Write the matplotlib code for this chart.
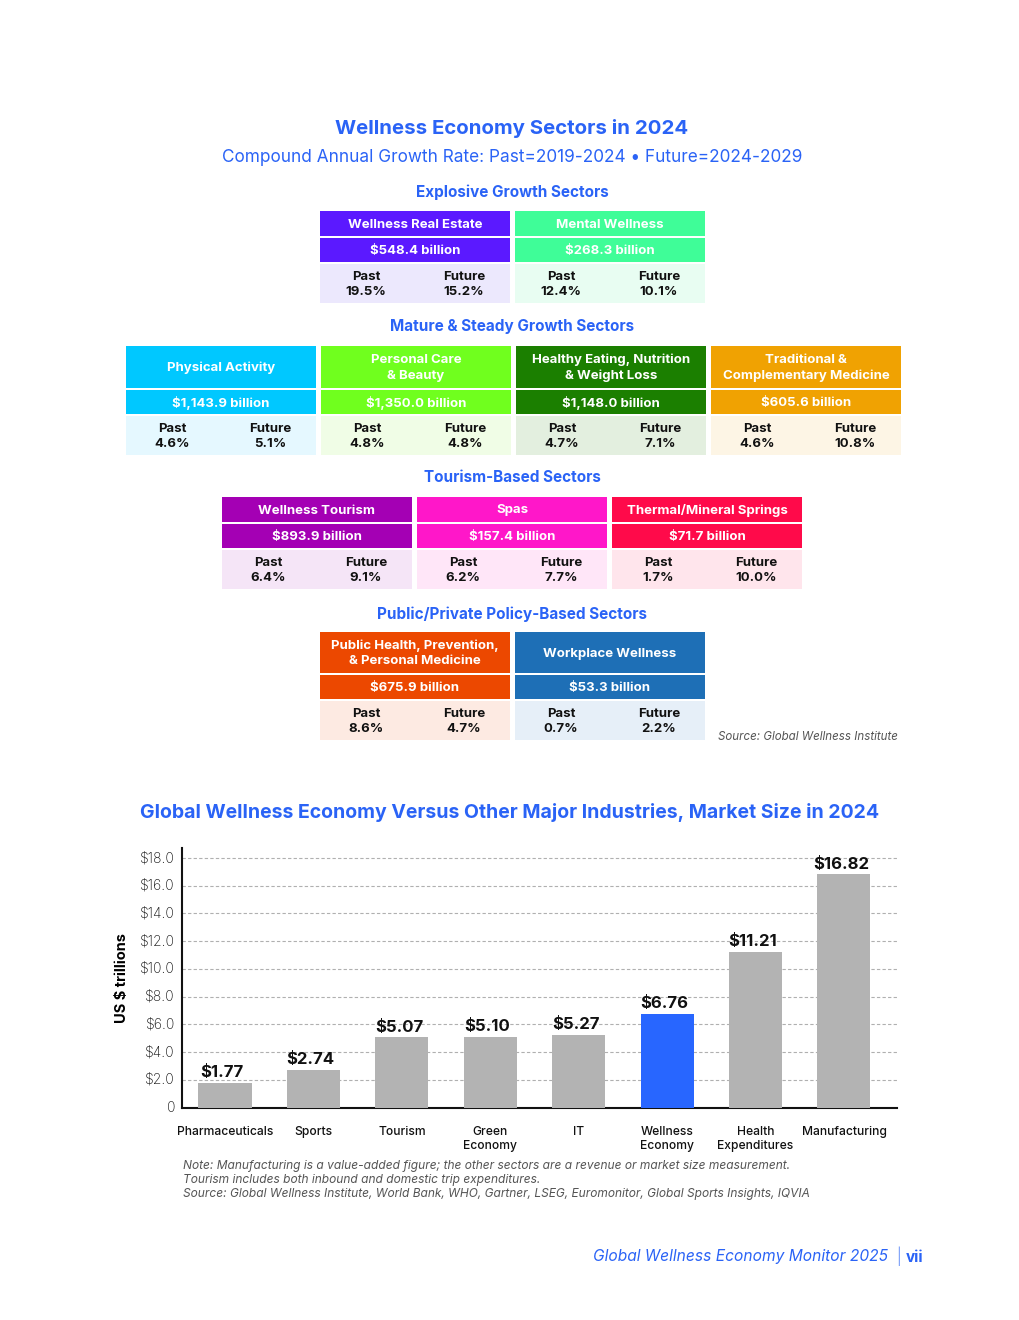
import matplotlib
matplotlib.use("Agg")
import matplotlib.pyplot as plt
from matplotlib.patches import Rectangle

plt.rcParams['font.family'] = ['Inter', 'DejaVu Sans']

BLUE = "#2a63f6"

# ---- sector data ----
explosive_names = ["Wellness Real Estate", "Mental Wellness"]
explosive_values = [548.4, 268.3]
explosive_past = [19.5, 12.4]
explosive_future = [15.2, 10.1]
explosive_colors = ["#5b19ff", "#3ffd98"]
explosive_light = ["#ece8fd", "#e8fdf2"]

mature_names = ["Physical Activity", "Personal Care\n& Beauty",
                "Healthy Eating, Nutrition\n& Weight Loss",
                "Traditional &\nComplementary Medicine"]
mature_values = [1143.9, 1350.0, 1148.0, 605.6]
mature_past = [4.6, 4.8, 4.7, 4.6]
mature_future = [5.1, 4.8, 7.1, 10.8]
mature_colors = ["#00c8ff", "#70ff1e", "#1b7f00", "#f0a202"]
mature_light = ["#e5f8ff", "#f0fde6", "#e3efdf", "#fdf5e5"]

tourism_names = ["Wellness Tourism", "Spas", "Thermal/Mineral Springs"]
tourism_values = [893.9, 157.4, 71.7]
tourism_past = [6.4, 6.2, 1.7]
tourism_future = [9.1, 7.7, 10.0]
tourism_colors = ["#a400b4", "#ff17c9", "#ff0a4a"]
tourism_light = ["#f5e5f7", "#ffe6f8", "#ffe5ec"]

policy_names = ["Public Health, Prevention,\n& Personal Medicine", "Workplace Wellness"]
policy_values = [675.9, 53.3]
policy_past = [8.6, 0.7]
policy_future = [4.7, 2.2]
policy_colors = ["#ec4800", "#1e6fb6"]
policy_light = ["#fdeae2", "#e6eff8"]

# ---- bar chart data ----
industries = ["Pharmaceuticals", "Sports", "Tourism", "Green\nEconomy", "IT",
              "Wellness\nEconomy", "Health\nExpenditures", "Manufacturing"]
market_size = [1.77, 2.74, 5.07, 5.10, 5.27, 6.76, 11.21, 16.82]
yticks = [0, 2, 4, 6, 8, 10, 12, 14, 16, 18]
ytick_labels = ["0"] + ["$%.1f" % t for t in yticks[1:]]

fig = plt.figure(figsize=(10.2, 13.2), dpi=100)
bg = fig.add_axes([0, 0, 1, 1])
bg.set_xlim(0, 1020)
bg.set_ylim(1320, 0)
bg.axis("off")


def draw_group(x0, top, head_h, names, values, past, future, colors, light):
    col_w, gap = 190, 5
    val_top = top + head_h + 2
    low_top = val_top + 26
    low_h = 39
    for i in range(len(names)):
        x = x0 + i * (col_w + gap)
        bg.add_patch(Rectangle((x, top), col_w, head_h, color=colors[i], lw=0))
        bg.add_patch(Rectangle((x, val_top), col_w, 24, color=colors[i], lw=0))
        bg.add_patch(Rectangle((x, low_top), col_w, low_h, color=light[i], lw=0))
        bg.text(x + col_w / 2, top + head_h / 2 + 1, names[i], color="white",
                fontsize=9.5, fontweight="bold", ha="center", va="center",
                linespacing=1.35)
        bg.text(x + col_w / 2, val_top + 13, "${:,.1f} billion".format(values[i]),
                color="white", fontsize=9.5, fontweight="bold", ha="center", va="center")
        for cx, lab, v in [(x + 46, "Past", past[i]), (x + 144, "Future", future[i])]:
            bg.text(cx, low_top + 13, lab, fontsize=9.5, fontweight="bold",
                    ha="center", va="center", color="#111111")
            bg.text(cx, low_top + 28, "%.1f%%" % v, fontsize=9.5, fontweight="bold",
                    ha="center", va="center", color="#111111")


bg.text(512, 129, "Wellness Economy Sectors in 2024", color=BLUE, fontsize=14.7,
        fontweight="bold", ha="center", va="center")
bg.text(512, 157, "Compound Annual Growth Rate: Past=2019-2024 \u2022 Future=2024-2029",
        color=BLUE, fontsize=12.4, ha="center", va="center")

section_titles = [(192, "Explosive Growth Sectors"), (327, "Mature & Steady Growth Sectors"),
                  (478, "Tourism-Based Sectors"), (614, "Public/Private Policy-Based Sectors")]
for y, t in section_titles:
    bg.text(512, y, t, color=BLUE, fontsize=11, fontweight="bold", ha="center", va="center")

draw_group(320, 211, 25, explosive_names, explosive_values, explosive_past,
           explosive_future, explosive_colors, explosive_light)
draw_group(126, 346, 42, mature_names, mature_values, mature_past,
           mature_future, mature_colors, mature_light)
draw_group(222, 497, 25, tourism_names, tourism_values, tourism_past,
           tourism_future, tourism_colors, tourism_light)
draw_group(320, 632, 41, policy_names, policy_values, policy_past,
           policy_future, policy_colors, policy_light)

bg.text(898, 737, "Source: Global Wellness Institute", fontsize=8.3, style="italic",
        color="#555555", ha="right", va="center")

# ---- bar chart ----
bg.text(510, 812, "Global Wellness Economy Versus Other Major Industries, Market Size in 2024",
        color=BLUE, fontsize=14, fontweight="bold", ha="center", va="center")

ax = fig.add_axes([182 / 1020, (1320 - 1107.7) / 1320, (897 - 182) / 1020, (1107.7 - 848.3) / 1320])
x = range(len(industries))
bar_colors = ["#2866ff" if n.startswith("Wellness") else "#b3b3b3" for n in industries]
ax.bar(x, market_size, width=0.6, color=bar_colors, zorder=3)
ax.set_xlim(-0.486, 7.60)
ax.set_ylim(0, 18.7)
for t in yticks[1:]:
    ax.axhline(t, color="#b0b0b0", lw=0.8, ls=(0, (3, 2)), zorder=1)
for i, v in enumerate(market_size):
    ax.text(i - 0.03, v + 0.2, "$%.2f" % v, ha="center", va="bottom", fontsize=12,
            fontweight="bold", color="#111111")
ax.set_yticks(yticks)
ax.set_yticklabels(ytick_labels, fontsize=10, color="#111111", fontweight="light",
                   va="top")
for lab in ax.get_yticklabels():
    lab.set_y(lab.get_position()[1])
ax.set_xticks(list(x))
ax.set_xticklabels(industries, fontsize=8.7, color="#111111", linespacing=1.25,
                   fontweight="medium")
ax.tick_params(axis="both", length=0)
ax.tick_params(axis="x", pad=13)
ax.tick_params(axis="y", pad=5)
for lab in ax.get_yticklabels():
    lab.set_verticalalignment("center")
for s in ["top", "right"]:
    ax.spines[s].set_visible(False)
for s in ["left", "bottom"]:
    ax.spines[s].set_linewidth(1.5)
    ax.spines[s].set_color("#111111")
ax.set_ylabel("US $ trillions", fontsize=10.5, fontweight="bold", labelpad=8)

notes = ["Note: Manufacturing is a value-added figure; the other sectors are a revenue or market size measurement.",
         "Tourism includes both inbound and domestic trip expenditures.",
         "Source: Global Wellness Institute, World Bank, WHO, Gartner, LSEG, Euromonitor, Global Sports Insights, IQVIA"]
for k, n in enumerate(notes):
    bg.text(183, 1166 + 14 * k, n, fontsize=8.6, style="italic", color="#555555",
            ha="left", va="center")

bg.text(888, 1257, "Global Wellness Economy Monitor 2025", fontsize=11.2, style="italic",
        color=BLUE, ha="right", va="center")
bg.text(898, 1256, "|", fontsize=11, color=BLUE, fontweight="light", ha="center", va="center")
bg.text(906, 1257, "vii", fontsize=11, fontweight="bold", color=BLUE, ha="left", va="center")

fig.savefig("out.png", dpi=100)
